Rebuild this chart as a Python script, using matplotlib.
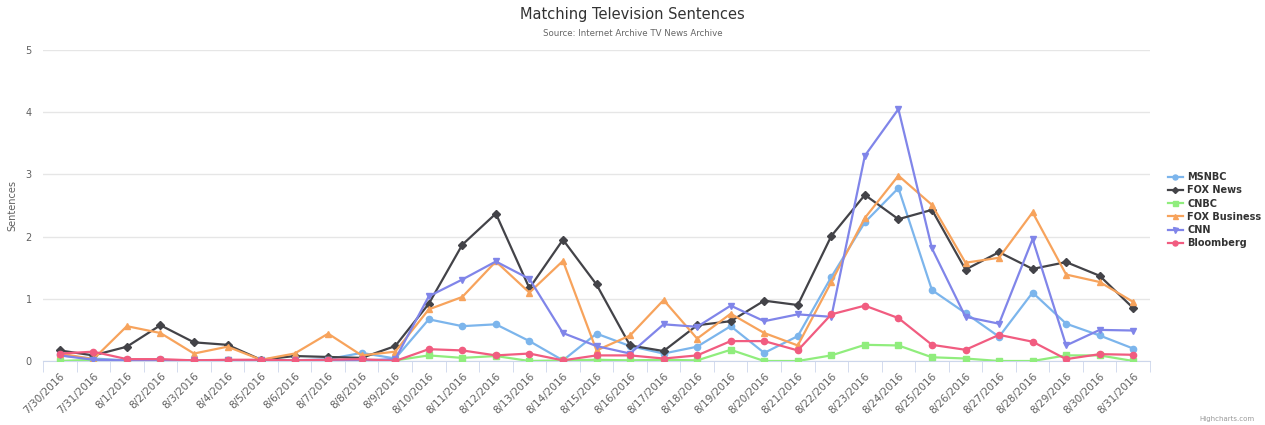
import numpy as np
import matplotlib.pyplot as plt

# dates on the x axis
dates = ["7/30/2016", "7/31/2016"] + [f"8/{d}/2016" for d in range(1, 32)]

msnbc = [0.09, 0.04, 0.01, 0.01, 0.01, 0.01, 0.01, 0.01, 0.03, 0.13, 0.04,
         0.67, 0.56, 0.59, 0.32, 0.01, 0.44, 0.24, 0.12, 0.23, 0.56,
         0.13, 0.40, 1.35, 2.23, 2.78, 1.14, 0.77, 0.39, 1.10, 0.60, 0.41, 0.20]
fox_news = [0.17, 0.09, 0.23, 0.575, 0.30, 0.26, 0.02, 0.08, 0.065, 0.05, 0.24,
            0.92, 1.87, 2.37, 1.17, 1.95, 1.23, 0.25, 0.16, 0.575, 0.64,
            0.97, 0.90, 2.01, 2.67, 2.28, 2.43, 1.47, 1.75, 1.48, 1.59, 1.37, 0.85]
cnbc = [0.0, 0.02, 0.01, 0.01, 0.0, 0.01, 0.01, 0.0, 0.01, 0.01, 0.01,
        0.09, 0.05, 0.08, 0.0, 0.01, 0.02, 0.01, 0.02, 0.01, 0.18,
        0.0, 0.0, 0.09, 0.26, 0.25, 0.06, 0.04, 0.0, 0.0, 0.09, 0.09, 0.0]
fox_business = [0.12, 0.03, 0.56, 0.45, 0.12, 0.23, 0.02, 0.12, 0.44, 0.09, 0.15,
                0.83, 1.03, 1.60, 1.10, 1.61, 0.17, 0.41, 0.98, 0.36, 0.76,
                0.45, 0.25, 1.27, 2.30, 2.98, 2.51, 1.58, 1.66, 2.39, 1.39, 1.27, 0.95]
cnn = [0.09, 0.02, 0.01, 0.01, 0.01, 0.01, 0.01, 0.01, 0.01, 0.01, 0.03,
       1.04, 1.31, 1.60, 1.32, 0.45, 0.24, 0.12, 0.59, 0.55, 0.89,
       0.64, 0.75, 0.71, 3.30, 4.05, 1.81, 0.71, 0.60, 1.96, 0.25, 0.50, 0.49]
bloomberg = [0.12, 0.15, 0.03, 0.03, 0.01, 0.02, 0.02, 0.01, 0.02, 0.03, 0.0,
             0.19, 0.17, 0.09, 0.12, 0.01, 0.09, 0.09, 0.04, 0.09, 0.32,
             0.32, 0.17, 0.75, 0.89, 0.69, 0.26, 0.18, 0.42, 0.31, 0.03, 0.11, 0.10]

series = [
    ("MSNBC", msnbc, "#7cb5ec", "o"),
    ("FOX News", fox_news, "#434348", "D"),
    ("CNBC", cnbc, "#90ed7d", "s"),
    ("FOX Business", fox_business, "#f7a35c", "^"),
    ("CNN", cnn, "#8085e9", "v"),
    ("Bloomberg", bloomberg, "#f15c80", "o"),
]

fig = plt.figure(figsize=(12.65, 4.25), dpi=100)
ax = fig.add_axes([43 / 1265, 1 - 361 / 425, (1150 - 43) / 1265, (361 - 50) / 425])

x = np.arange(len(dates))
for name, vals, col, mk in series:
    ms = 3.8 if mk == "D" else 4.5
    ax.plot(x, vals, color=col, marker=mk, markersize=ms, linewidth=1.6,
            label=name, zorder=3)

ax.set_xlim(-0.5, len(dates) - 0.5)
ax.set_ylim(0, 5)
ax.set_yticks([0, 1, 2, 3, 4, 5])
ax.grid(axis="y", color="#e6e6e6", linewidth=1)
ax.set_axisbelow(True)
for s in ["top", "right", "left"]:
    ax.spines[s].set_visible(False)
ax.spines["bottom"].set_color("#ccd6eb")

ax.set_xticks(x)
ax.set_xticklabels(dates, rotation=45, ha="right", rotation_mode="anchor",
                   fontsize=7.5, color="#606060")
ax.set_xticks(np.arange(-0.5, len(dates), 1), minor=True)
ax.tick_params(axis="x", which="major", length=0, pad=7)
ax.tick_params(axis="x", which="minor", length=8, color="#ccd6eb")
ax.tick_params(axis="y", length=0, labelsize=7, labelcolor="#606060", pad=8)
ax.set_ylabel("Sentences", fontsize=7, color="#606060", labelpad=6)

fig.text(0.5, 1 - 15 / 425, "Matching Television Sentences", ha="center",
         va="center", fontsize=10.5, color="#333333")
fig.text(0.5, 1 - 34 / 425, "Source: Internet Archive TV News Archive", ha="center",
         va="center", fontsize=6.2, color="#666666")

leg = ax.legend(loc="center left", bbox_to_anchor=(1.008, 0.485), frameon=False,
                fontsize=7, handlelength=1.6, labelspacing=0.33,
                handletextpad=0.4, markerscale=0.8)
for t in leg.get_texts():
    t.set_fontweight("bold")
    t.set_color("#333333")

fig.text(1 - 10 / 1265, 1 - 422 / 425, "Highcharts.com", ha="right", va="bottom",
         fontsize=5, color="#999999")

fig.savefig("out.png", dpi=100)
